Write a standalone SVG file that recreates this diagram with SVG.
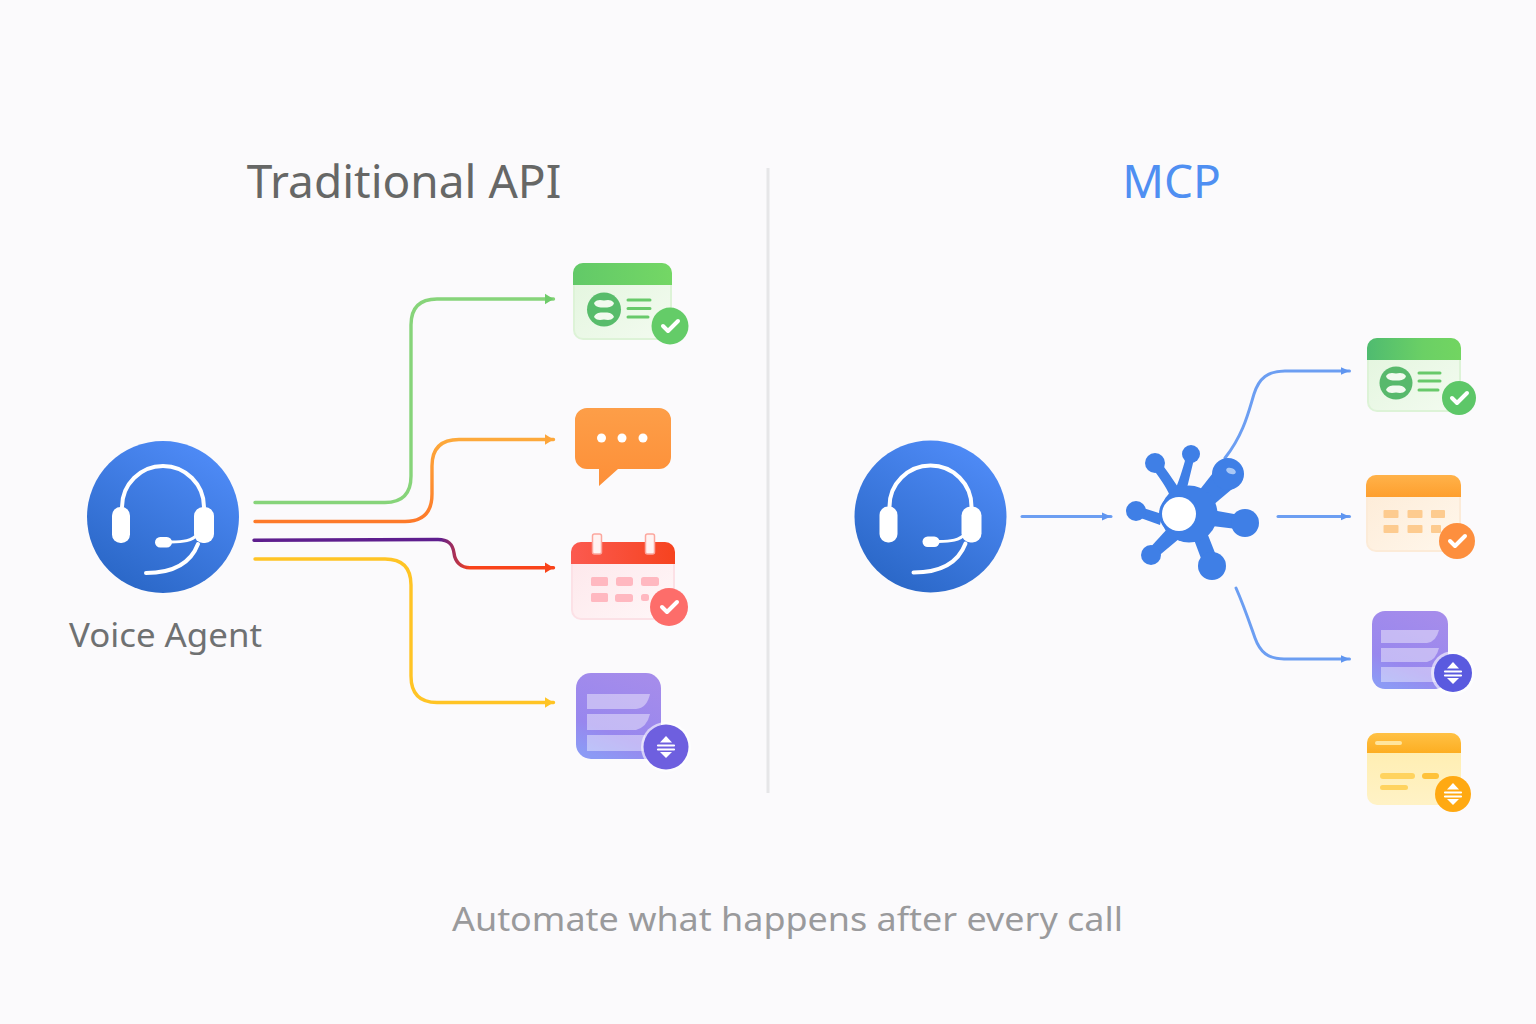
<svg xmlns="http://www.w3.org/2000/svg" width="1536" height="1024" viewBox="0 0 1536 1024">
<style>
.t{font-family:"Noto Sans","Open Sans",sans-serif}
.c{fill:none;stroke-width:3.400;stroke-linecap:round;stroke-linejoin:round}
.b{fill:none;stroke:#6C9EF2;stroke-width:3;stroke-linecap:round;stroke-linejoin:round}
.w{fill:none;stroke:#fff;stroke-linecap:round}
.chk{fill:none;stroke:#fff;stroke-width:4;stroke-linecap:round;stroke-linejoin:round}
</style>
<defs>
<linearGradient id="blue" x1="0.8" y1="0.05" x2="0.25" y2="0.95"><stop offset="0" stop-color="#4F8BF7"/><stop offset="1" stop-color="#2B68C8"/></linearGradient>
<linearGradient id="gh" x1="0" y1="0" x2="1" y2="0"><stop offset="0" stop-color="#62C968"/><stop offset="1" stop-color="#74D765"/></linearGradient>
<linearGradient id="gb" x1="0" y1="0" x2="1" y2="1"><stop offset="0" stop-color="#E2F5DD"/><stop offset="1" stop-color="#F3FBF0"/></linearGradient>
<linearGradient id="gh2" x1="0" y1="0" x2="1" y2="0"><stop offset="0" stop-color="#4FBB70"/><stop offset="0.6" stop-color="#6BD065"/><stop offset="1" stop-color="#72D561"/></linearGradient>
<linearGradient id="or" x1="0" y1="0" x2="0" y2="1"><stop offset="0" stop-color="#FD9E48"/><stop offset="1" stop-color="#FD8F38"/></linearGradient>
<linearGradient id="rd" x1="0" y1="0" x2="1" y2="0"><stop offset="0" stop-color="#FB5A50"/><stop offset="1" stop-color="#F6431F"/></linearGradient>
<linearGradient id="rb" x1="0" y1="0" x2="1" y2="1"><stop offset="0" stop-color="#FDE6EA"/><stop offset="1" stop-color="#FFF7F8"/></linearGradient>
<linearGradient id="pu" x1="0.7" y1="0" x2="0.3" y2="1"><stop offset="0" stop-color="#A58CEB"/><stop offset="0.7" stop-color="#9887EE"/><stop offset="1" stop-color="#8C9AF5"/></linearGradient>
<linearGradient id="ob" x1="0" y1="0" x2="1" y2="1"><stop offset="0" stop-color="#FDEBD6"/><stop offset="1" stop-color="#FFF7EC"/></linearGradient>
<linearGradient id="oh" x1="0" y1="0" x2="0" y2="1"><stop offset="0" stop-color="#FFB24A"/><stop offset="1" stop-color="#FE9F2E"/></linearGradient>
<linearGradient id="yh" x1="0" y1="0" x2="0" y2="1"><stop offset="0" stop-color="#FFC145"/><stop offset="1" stop-color="#FDAE22"/></linearGradient>
<linearGradient id="yb" x1="0" y1="0" x2="0" y2="1"><stop offset="0" stop-color="#FFEDAC"/><stop offset="1" stop-color="#FFF2C6"/></linearGradient>
<linearGradient id="purple-red" gradientUnits="userSpaceOnUse" x1="440" y1="0" x2="470" y2="0"><stop offset="0" stop-color="#5E1E8E"/><stop offset="1" stop-color="#F9431A"/></linearGradient>
<linearGradient id="orl" gradientUnits="userSpaceOnUse" x1="0" y1="440" x2="0" y2="520"><stop offset="0" stop-color="#FDA93B"/><stop offset="1" stop-color="#FD7A2A"/></linearGradient>
<marker id="mG" markerUnits="userSpaceOnUse" markerWidth="10" markerHeight="12" refX="9" refY="6" orient="auto"><path d="M0 0.500L9 6L0 11.500Z" fill="#6FCB6A"/></marker>
<marker id="mO" markerUnits="userSpaceOnUse" markerWidth="10" markerHeight="12" refX="9" refY="6" orient="auto"><path d="M0 0.500L9 6L0 11.500Z" fill="#FDA53A"/></marker>
<marker id="mR" markerUnits="userSpaceOnUse" markerWidth="10" markerHeight="12" refX="9" refY="6" orient="auto"><path d="M0 0.500L9 6L0 11.500Z" fill="#F9431A"/></marker>
<marker id="mY" markerUnits="userSpaceOnUse" markerWidth="10" markerHeight="12" refX="9" refY="6" orient="auto"><path d="M0 0.500L9 6L0 11.500Z" fill="#FFC425"/></marker>
<marker id="mB" markerUnits="userSpaceOnUse" markerWidth="10" markerHeight="10" refX="9" refY="5" orient="auto"><path d="M0 1L9 5L0 9Z" fill="#5F95F0"/></marker>
<g id="headset">
<circle cx="0" cy="0" r="76" fill="url(#blue)"/>
<path class="w" stroke-width="4" d="M-41 -10A41 41 0 0 1 41 -10"/>
<rect x="-51" y="-10" width="18" height="36" rx="8.500" fill="#fff"/>
<rect x="31" y="-10" width="20" height="36" rx="9" fill="#fff"/>
<path class="w" stroke-width="3" d="M8 25C20 25 29 24 35 17"/>
<rect x="-8" y="20" width="17" height="10.500" rx="5.200" fill="#fff"/>
<path class="w" stroke-width="4" d="M-17 56C8 56 27 48 35 27"/>
</g>
<g id="ck"><path class="chk" d="M-7 0L-2 5L8 -5"/></g>
<g id="sort"><path d="M0 -11L6 -4.500H-6Z" fill="#fff"/><path d="M0 11L6 5H-6Z" fill="#fff"/><path d="M-8 -1.500H8M-8 2.500H8" stroke="#fff" stroke-width="2.200" stroke-linecap="round"/></g>
<g id="beans"><path d="M-10 -7C-7 -11 -3 -10 0 -9.500C3 -10 7 -11 10 -7C9 -3 4 -2 0 -2.500C-4 -2 -9 -3 -10 -7Z" fill="#F2FAEF"/><path d="M-10 7C-9 3 -4 2 0 2.500C4 2 9 3 10 7C7 11 3 10 0 9.500C-3 10 -7 11 -10 7Z" fill="#F2FAEF"/></g>
</defs>
<rect width="1536" height="1024" fill="#FBFAFC"/>
<text class="t" x="404" y="198" font-size="46" fill="#666766" text-anchor="middle">Traditional API</text>
<text class="t" x="1171.500" y="198" font-size="46" fill="#4F8FF2" text-anchor="middle">MCP</text>
<text class="t" x="69" y="647" font-size="32" fill="#6F7172" textLength="193" lengthAdjust="spacingAndGlyphs">Voice Agent</text>
<text class="t" x="452" y="931" font-size="33" fill="#9A9A9C" textLength="671" lengthAdjust="spacingAndGlyphs">Automate what happens after every call</text>
<path id="divider" d="M768 168V793" stroke="#E6E6E8" stroke-width="3" fill="none"/>
<g id="connectors">
<path class="c" stroke="#87D47A" marker-end="url(#mG)" d="M255 502.500H385Q411 502.500 411 476V325Q411 299 437 299H553.500"/>
<path class="c" stroke="url(#orl)" marker-end="url(#mO)" d="M255 521.500H405Q432 521.500 432 494V466Q432 439.500 459 439.500H553.500"/>
<path class="c" stroke="url(#purple-red)" marker-end="url(#mR)" d="M254 540.300L438 539.500C450 539.500 453 546 454 553C455 562 461 567.700 470 567.700H553.500"/>
<path class="c" stroke="#FFC425" marker-end="url(#mY)" d="M255 559H385Q411 559 411 585V676Q411 702.500 437 702.500H553.500"/>
<path class="b" marker-end="url(#mB)" d="M1022 516.500H1111"/>
<path class="b" marker-end="url(#mB)" d="M1225 458C1244 434 1249 410 1254 394C1259 378 1268 371 1285 371H1349.500"/>
<path class="b" marker-end="url(#mB)" d="M1278 516.500H1349.500"/>
<path class="b" marker-end="url(#mB)" d="M1236 588C1244 606 1250 624 1255 638C1260 652 1268 659 1284 659H1349.500"/>
</g>
<g id="agent-left"><use href="#headset" transform="translate(163,517)"/></g>
<g id="agent-right"><use href="#headset" transform="translate(930.500,516.500)"/></g>
<g id="node-crm-left">
<rect x="574" y="264" width="97" height="75" rx="9" fill="url(#gb)" stroke="#DDF3D7" stroke-width="2"/>
<path d="M573 285V273A10 10 0 0 1 583 263H662A10 10 0 0 1 672 273V285Z" fill="url(#gh)"/>
<circle cx="604" cy="309.500" r="17" fill="#58BC6B"/>
<use href="#beans" transform="translate(604,310)"/>
<path d="M628 300H650M628 308.500H650M628 317H648" stroke="#68C96A" stroke-width="3" stroke-linecap="round"/>
<circle cx="670" cy="326" r="18.500" fill="#64CC68"/><use href="#ck" transform="translate(670,326)"/>
</g>
<g id="node-chat-left">
<path d="M587 408H659A12 12 0 0 1 671 420V457A12 12 0 0 1 659 469H618L599 486V469H587A12 12 0 0 1 575 457V420A12 12 0 0 1 587 408Z" fill="url(#or)"/>
<circle cx="601.500" cy="438" r="4.500" fill="#fff"/><circle cx="622" cy="438" r="4.500" fill="#fff"/><circle cx="643" cy="438" r="4.500" fill="#fff"/>
</g>
<g id="node-cal-left">
<rect x="572" y="543" width="102" height="76" rx="9" fill="url(#rb)" stroke="#FCE1E6" stroke-width="2"/>
<path d="M571 564V552A10 10 0 0 1 581 542H665A10 10 0 0 1 675 552V564Z" fill="url(#rd)"/>
<rect x="592.500" y="534" width="9" height="20" rx="2" fill="#FFF3F2" stroke="#FCA79E" stroke-width="1.500"/>
<rect x="645.500" y="534" width="9" height="20" rx="2" fill="#FFF3F2" stroke="#FCA79E" stroke-width="1.500"/>
<g fill="#FFB8C0"><rect x="591" y="577" width="17" height="9" rx="1.500"/><rect x="616" y="577" width="17" height="9" rx="2.500"/><rect x="641" y="577" width="18" height="9" rx="2.500"/><rect x="591" y="593" width="17" height="9" rx="1.500"/><rect x="615" y="594" width="18" height="8" rx="2.500"/><rect x="641" y="594" width="8" height="7" rx="2.500"/></g>
<circle cx="669" cy="607" r="19" fill="#FD6D6A"/><use href="#ck" transform="translate(669,607)"/>
</g>
<g id="node-db-left">
<rect x="576" y="673" width="85" height="86" rx="15" fill="url(#pu)"/>
<g fill="#fff" fill-opacity="0.42"><path d="M587 694H650Q647 708 636 709H587Z"/><path d="M587 714H650Q647 727 636 730H587Z"/><path d="M587 735H645V751H587Z"/></g>
<circle cx="666" cy="747" r="25" fill="#fff" fill-opacity="0.6"/>
<circle cx="666" cy="747" r="22.500" fill="#6E5FDF"/><use href="#sort" transform="translate(666,747)"/>
</g>
<g id="node-hub">
<g fill="#3F7FE6">
<path d="M1151 466L1159 460C1165 468 1172 478 1180 490L1170 496C1166 486 1158 476 1151 466Z"/>
<path d="M1187 453L1195 455L1186 492L1176 488C1180 478 1184 465 1187 453Z"/>
<path d="M1137 506L1162 514L1160 525L1135 516Z"/>
<path d="M1147 551L1155 559L1180 538L1168 528Z"/>
<path d="M1205 569L1219 563L1206 530L1193 537Z"/>
<path d="M1245 516L1245 530L1212 526L1212 510Z"/>
<path d="M1220 464L1238 484L1212 506L1198 492Z"/>
<circle cx="1189" cy="514" r="28.500"/><circle cx="1179" cy="514" r="20"/><circle cx="1155" cy="463" r="10"/><circle cx="1191" cy="454" r="9"/><circle cx="1136" cy="511" r="10"/><circle cx="1151" cy="555" r="10"/><circle cx="1212" cy="566" r="14"/><circle cx="1245" cy="523" r="14"/><circle cx="1228" cy="474" r="16"/></g>
<circle cx="1179" cy="514" r="17" fill="#fff"/>
<ellipse cx="1231" cy="471" rx="5" ry="3" fill="#A9C8F6" transform="rotate(20 1231 471)"/>
</g>
<g id="node-crm-right">
<rect x="1368" y="339" width="92" height="72" rx="9" fill="url(#gb)" stroke="#DDF3D7" stroke-width="2"/>
<path d="M1367 360V348A10 10 0 0 1 1377 338H1451A10 10 0 0 1 1461 348V360Z" fill="url(#gh2)"/>
<circle cx="1396" cy="383" r="16.500" fill="#58B96C"/>
<use href="#beans" transform="translate(1396,383)"/>
<path d="M1419 373H1440M1419 381H1440M1419 390H1438" stroke="#68C96A" stroke-width="3" stroke-linecap="round"/>
<circle cx="1459" cy="398" r="17" fill="#5DC768"/><use href="#ck" transform="translate(1459,398)"/>
</g>
<g id="node-cal-right">
<rect x="1367" y="476" width="93" height="75" rx="9" fill="url(#ob)" stroke="#FCEBD8" stroke-width="2"/>
<path d="M1366 497V485A10 10 0 0 1 1376 475H1451A10 10 0 0 1 1461 485V497Z" fill="url(#oh)"/>
<g fill="#FDCB8F"><rect x="1383.500" y="510" width="15" height="8" rx="1"/><rect x="1407.500" y="510" width="15" height="8" rx="1"/><rect x="1431" y="510" width="14" height="8" rx="1"/><rect x="1383.500" y="525" width="15" height="8" rx="1"/><rect x="1407.500" y="525" width="15" height="8" rx="1"/><rect x="1431" y="525" width="10" height="8" rx="1"/></g>
<circle cx="1457" cy="541" r="18" fill="#FD8F3E"/><use href="#ck" transform="translate(1457,541)"/>
</g>
<g id="node-db-right">
<rect x="1372" y="611" width="76" height="78" rx="13" fill="url(#pu)"/>
<g fill="#fff" fill-opacity="0.42"><path d="M1381 630H1439Q1436 642 1427 643H1381Z"/><path d="M1381 648H1439Q1436 660 1427 662H1381Z"/><path d="M1381 667H1436V682H1381Z"/></g>
<circle cx="1453" cy="673" r="22" fill="#fff" fill-opacity="0.6"/>
<circle cx="1453" cy="673" r="19" fill="#5A5ADF"/><use href="#sort" transform="translate(1453,673)"/>
</g>
<g id="node-doc-right">
<rect x="1367" y="733" width="94" height="72" rx="10" fill="url(#yb)"/>
<path d="M1367 753V743A10 10 0 0 1 1377 733H1451A10 10 0 0 1 1461 743V753Z" fill="url(#yh)"/>
<rect x="1375" y="741" width="27" height="4" rx="2" fill="#FFE59E"/>
<g fill="#FFD35F"><rect x="1380" y="773" width="35" height="6" rx="3"/><rect x="1422" y="773" width="17" height="6" rx="3" fill="#FFC23A"/><rect x="1380" y="785" width="28" height="5" rx="2.500"/></g>
<circle cx="1453" cy="794" r="18" fill="#FFA912"/><use href="#sort" transform="translate(1453,794)"/>
</g>
</svg>
